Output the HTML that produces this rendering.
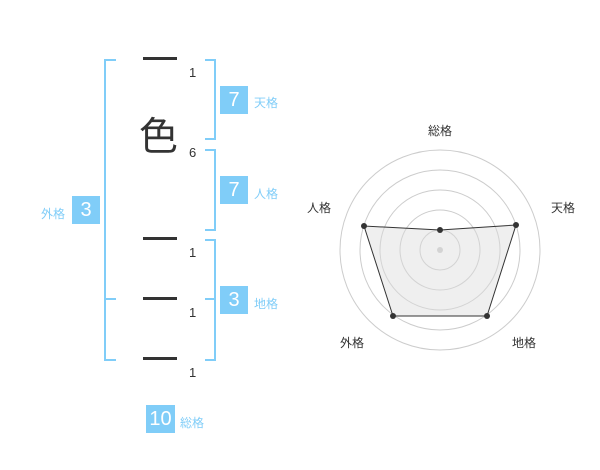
<!DOCTYPE html>
<html><head><meta charset="utf-8"><style>
body{margin:0;width:600px;height:470px;background:#fff;position:relative;overflow:hidden;font-family:"Liberation Sans","Noto Sans CJK JP",sans-serif}
.a{position:absolute}
.box{position:absolute;width:28px;height:28px;background:#80cdf8;color:#fff;font-size:20px;line-height:28px;text-align:center}
.lbl{position:absolute;color:#80cdf8;font-size:12px;line-height:14px}
.n{position:absolute;color:#333;font-size:13px;line-height:14px}
.bar{position:absolute;left:143px;width:34px;height:3px;background:#333}
</style></head><body>
<svg class="a" style="left:0;top:0" width="600" height="470">
<g stroke="#80cdf8" stroke-width="2" fill="none">
<path d="M116 60H105V360H116M105 299H116"/>
<path d="M205 60H215V139H205"/>
<path d="M205 150H215V230H205"/>
<path d="M205 240H215V360H205M205 299H215"/>
</g>
<g fill="none" stroke="#ccc" stroke-width="1">
<circle cx="440" cy="250" r="20"/><circle cx="440" cy="250" r="40"/><circle cx="440" cy="250" r="60"/><circle cx="440" cy="250" r="80"/><circle cx="440" cy="250" r="100"/>
</g>
<circle cx="440" cy="250" r="3" fill="#ccc"/>
<polygon points="440,230 516,225 487,316 393,316 364,226" fill="rgba(220,220,220,0.45)" stroke="#333" stroke-width="1"/>
<g fill="#333"><circle cx="440" cy="230" r="3"/><circle cx="516" cy="225" r="3"/><circle cx="487" cy="316" r="3"/><circle cx="393" cy="316" r="3"/><circle cx="364" cy="226" r="3"/></g>
<g font-size="12" fill="#333" text-anchor="middle" font-family="Liberation Sans,Noto Sans CJK JP,sans-serif">
<text x="440" y="135">総格</text><text x="563" y="212">天格</text><text x="319" y="212">人格</text><text x="524" y="347">地格</text><text x="352" y="347">外格</text>
</g>
</svg>
<div class="bar" style="top:57px"></div>
<div class="a" style="left:139px;top:116px;font-size:39px;line-height:44px;color:#333">色</div>
<div class="bar" style="top:237px"></div>
<div class="bar" style="top:297px"></div>
<div class="bar" style="top:357px"></div>
<div class="n" style="left:189px;top:66px">1</div>
<div class="n" style="left:189px;top:146px">6</div>
<div class="n" style="left:189px;top:246px">1</div>
<div class="n" style="left:189px;top:306px">1</div>
<div class="n" style="left:189px;top:366px">1</div>
<div class="box" style="left:220px;top:86px">7</div><div class="lbl" style="left:254px;top:96px">天格</div>
<div class="box" style="left:220px;top:176px">7</div><div class="lbl" style="left:254px;top:187px">人格</div>
<div class="box" style="left:220px;top:286px">3</div><div class="lbl" style="left:254px;top:297px">地格</div>
<div class="box" style="left:72px;top:196px">3</div><div class="lbl" style="left:41px;top:207px">外格</div>
<div class="box" style="left:146px;top:405px;width:29px">10</div><div class="lbl" style="left:180px;top:416px">総格</div>
</body></html>
